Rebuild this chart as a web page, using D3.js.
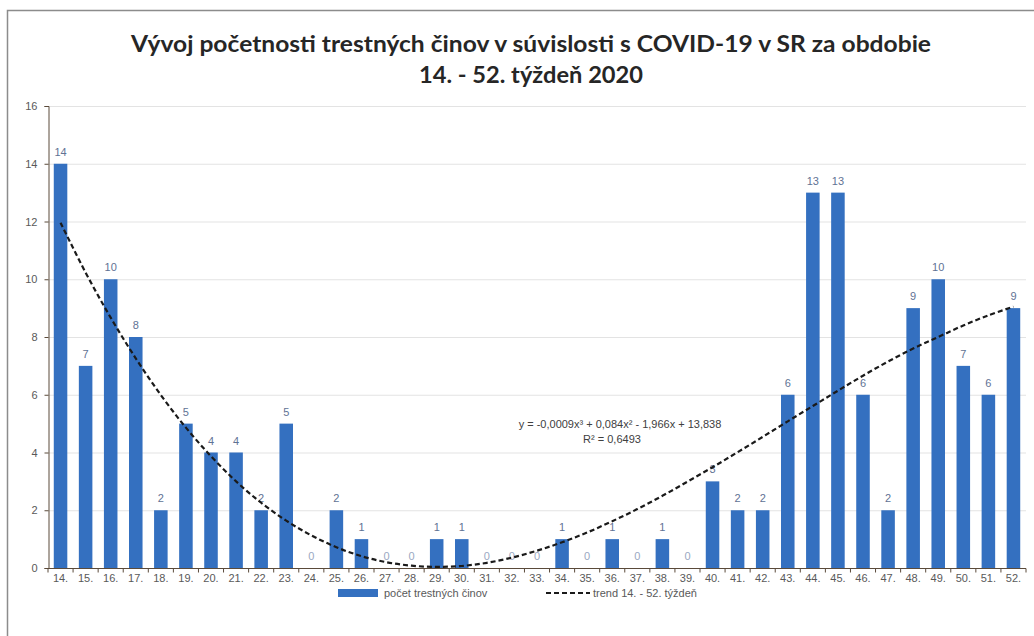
<!DOCTYPE html>
<html><head><meta charset="utf-8">
<script src="https://cdn.jsdelivr.net/npm/d3@7/dist/d3.min.js"></script>
<style>body{margin:0;background:#fff;}svg{display:block;font-family:"Liberation Sans",Arial,sans-serif;}</style>
</head><body>
<svg id="chart" width="1034" height="636"></svg>
<script>
const weeks = ["14.","15.","16.","17.","18.","19.","20.","21.","22.","23.","24.","25.","26.","27.","28.","29.","30.","31.","32.","33.","34.","35.","36.","37.","38.","39.","40.","41.","42.","43.","44.","45.","46.","47.","48.","49.","50.","51.","52."];
const counts = [14,7,10,8,2,5,4,4,2,5,0,2,1,0,0,1,1,0,0,0,1,0,1,0,1,0,3,2,2,6,13,13,6,2,9,10,7,6,9];
const trend = [11.96,10.23,8.67,7.26,5.99,4.86,3.87,3.0,2.26,1.64,1.13,0.72,0.41,0.2,0.08,0.04,0.07,0.18,0.36,0.6,0.89,1.23,1.62,2.04,2.5,2.99,3.49,4.01,4.54,5.08,5.61,6.14,6.66,7.15,7.6,8.0,8.4,8.75,9.05];
const yTicks = [0,2,4,6,8,10,12,14,16];
const titleLines = ["Vývoj početnosti trestných činov v súvislosti s COVID-19 v SR za obdobie","14. - 52. týždeň 2020"];
const equation = ["y = -0,0009x³ + 0,084x² - 1,966x + 13,838","R² = 0,6493"];
const legendLabels = ["počet trestných činov","trend 14. - 52. týždeň"];

const svg = d3.select("#chart");
// outer frame (only top and left edges visible in the reference)
svg.append("rect").attr("x",7.5).attr("y",10.5).attr("width",1040).attr("height",640)
  .attr("fill","#fff").attr("stroke","#8c8c8c").attr("stroke-width",1.5);

const x = d3.scaleBand().domain(weeks).range([48,1026]).paddingInner(0.46).paddingOuter(0.23);
const y = d3.scaleLinear().domain([0,16]).range([568,106]);

// gridlines
svg.append("g").selectAll("line").data(yTicks.filter(d=>d>0)).join("line")
  .attr("x1",48).attr("x2",1026).attr("y1",d=>y(d)+0.5).attr("y2",d=>y(d)+0.5)
  .attr("stroke","#e3e3e3").attr("stroke-width",1);

// title
svg.append("g").selectAll("text").data(titleLines).join("text")
  .attr("x",531).attr("y",(d,i)=>52+i*31).attr("text-anchor","middle")
  .attr("font-size",22).attr("font-weight","bold").attr("fill","#262626")
  .attr("font-family","Lato,'Liberation Sans',sans-serif")
  .attr("textLength",(d,i)=>i===0?800:224).attr("lengthAdjust","spacingAndGlyphs")
  .text(d=>d);

// bars
svg.append("g").selectAll("rect").data(counts).join("rect")
  .attr("x",(d,i)=>x(weeks[i])).attr("width",x.bandwidth())
  .attr("y",d=>y(d)).attr("height",d=>y(0)-y(d)).attr("fill","#3470c0");

// value labels
svg.append("g").selectAll("text").data(counts).join("text")
  .attr("x",(d,i)=>x(weeks[i])+x.bandwidth()/2).attr("y",d=>y(d)-8)
  .attr("text-anchor","middle").attr("font-size",11)
  .attr("fill",d=>d===0?"#9aa8c2":"#5f7294").text(d=>d);

// y axis
const yAxis = d3.axisLeft(y).tickValues(yTicks).tickSize(4).tickPadding(7);
const gy = svg.append("g").attr("transform","translate(48.5,0)").call(yAxis);
gy.select(".domain").attr("stroke","#5a4a3a");
gy.selectAll(".tick line").attr("stroke","#5a4a3a");
gy.selectAll("text").attr("font-size",11).attr("fill","#595959").attr("font-family","'Liberation Sans',sans-serif");

// x axis
const gx = svg.append("g").attr("transform","translate(0,"+(y(0)+0.5)+")");
gx.append("line").attr("x1",48).attr("x2",1026).attr("stroke","#5a4a3a");
const step = x.step();
const bounds = weeks.map((w,i)=>x(w)-(step-x.bandwidth())/2).concat([1026]);
gx.selectAll("line.tk").data(bounds).join("line").attr("class","tk")
  .attr("x1",d=>d).attr("x2",d=>d).attr("y1",0).attr("y2",4).attr("stroke","#5a4a3a");
gx.selectAll("text").data(weeks).join("text")
  .attr("x",w=>x(w)+x.bandwidth()/2).attr("y",13).attr("text-anchor","middle")
  .attr("font-size",11).attr("fill","#595959").text(w=>w);

// trend line
const line = d3.line().x((d,i)=>x(weeks[i])+x.bandwidth()/2).y(d=>y(d)).curve(d3.curveCatmullRom);
svg.append("path").datum(trend).attr("d",line).attr("fill","none")
  .attr("stroke","#1a1a1a").attr("stroke-width",2.2).attr("stroke-dasharray","5,3");

// equation
svg.append("g").selectAll("text").data(equation).join("text")
  .attr("x",(d,i)=>i===0?620:612).attr("y",(d,i)=>428+i*15).attr("text-anchor","middle")
  .attr("font-size",11).attr("fill","#404040").text(d=>d);

// legend
const lg = svg.append("g");
lg.append("rect").attr("x",338).attr("y",589).attr("width",40).attr("height",8).attr("fill","#3470c0");
lg.append("text").attr("x",384).attr("y",597).attr("font-size",11).attr("fill","#595959").text(legendLabels[0]);
lg.append("line").attr("x1",546).attr("x2",590).attr("y1",593).attr("y2",593)
  .attr("stroke","#1a1a1a").attr("stroke-width",2).attr("stroke-dasharray","5,3");
lg.append("text").attr("x",593).attr("y",597).attr("font-size",11).attr("fill","#595959").text(legendLabels[1]);
</script>
</body></html>
